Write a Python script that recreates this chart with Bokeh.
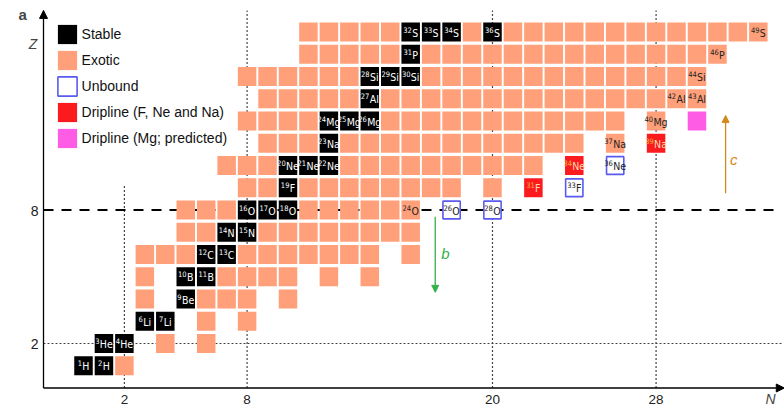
from bokeh.plotting import figure
from bokeh.models import (ColumnDataSource, Range1d, Arrow, NormalHead,
                          Label, Legend, LegendItem)
from bokeh.core.properties import value
from bokeh.embed import file_html
from bokeh.resources import INLINE

# ---------------- data ----------------
symbols = {1: "H", 2: "He", 3: "Li", 4: "Be", 5: "B", 6: "C", 7: "N", 8: "O",
           9: "F", 10: "Ne", 11: "Na", 12: "Mg", 13: "Al", 14: "Si", 15: "P", 16: "S"}

# stable nuclei (N, Z)
stable_N = [0, 1, 1, 2, 3, 4, 5, 5, 6, 6, 7, 7, 8, 8, 9, 10, 10, 10, 11, 12, 12,
            12, 13, 14, 14, 14, 15, 16, 16, 16, 17, 18, 20]
stable_Z = [1, 1, 2, 2, 3, 3, 4, 5, 5, 6, 6, 7, 7, 8, 8, 8, 9, 10, 10, 10, 11,
            12, 12, 12, 13, 14, 14, 14, 15, 16, 16, 16, 16]

# exotic (bound, radioactive) nuclei: runs of N for each Z  (Z, N_first, N_last)
exotic_runs = [
    (1, 2, 2),
    (2, 4, 4), (2, 6, 6),
    (3, 6, 6), (3, 8, 8),
    (4, 3, 3), (4, 6, 8), (4, 10, 10),
    (5, 3, 3), (5, 7, 10), (5, 12, 12), (5, 14, 14),
    (6, 3, 5), (6, 8, 14), (6, 16, 16),
    (7, 5, 6), (7, 9, 16),
    (8, 5, 7), (8, 11, 16),
    (9, 8, 9), (9, 11, 18), (9, 20, 20),
    (10, 7, 9), (10, 13, 22),
    (11, 9, 11), (11, 13, 24), (11, 26, 26),
    (12, 8, 11), (12, 15, 26), (12, 28, 28),
    (13, 9, 13), (13, 15, 30),
    (14, 8, 13), (14, 17, 30),
    (15, 11, 15), (15, 17, 31),
    (16, 11, 15), (16, 19, 19), (16, 21, 33),
]
# exotic nuclei that carry a label
exotic_label_N = [16, 26, 28, 29, 30, 30, 31, 33]
exotic_label_Z = [8, 11, 12, 13, 13, 14, 15, 16]

# unbound nuclei
unbound_N = [18, 20, 24, 26]
unbound_Z = [8, 8, 9, 10]

# dripline nuclei (F, Ne and Na)
drip_N = [22, 24, 28]
drip_Z = [9, 10, 11]

# predicted Mg dripline
pred_N = [30]
pred_Z = [12]

x_ticks = [2, 8, 20, 28]
x_tick_labels = ["2", "8", "20", "28"]
y_ticks = [2, 8]
y_tick_labels = ["2", "8"]

# magic-number guide lines
magic_N = [2, 8, 20, 28]
magic_N_top = [9.1, 16.97, 16.97, 16.97]

# ---------------- styles ----------------
C_STABLE = "#000000"
C_EXOTIC = "#FFA07A"
C_DRIP = "#FB1B1F"
C_PRED = "#FF5CE6"
C_UNB = "#5A5AF0"
C_B = "#35B04A"
C_C = "#D4891C"
CELL_W, CELL_H = 0.905, 0.855
FONT_TXT = "Liberation Sans"
FONT_CELL = "DejaVu Sans Condensed"
SYM_SIZE, SUP_SIZE = 10.5, 7.5
AX_X0 = -1.956      # position of the Z axis (in N units)
X_LAB_Z = -0.5      # centre of the N tick labels (in Z units)

exo_N, exo_Z = [], []
for z, n0, n1 in exotic_runs:
    for n in range(n0, n1 + 1):
        exo_N.append(n)
        exo_Z.append(z)

p = figure(width=784, height=406, output_backend="svg", toolbar_location=None,
           x_range=Range1d(-4.059, 34.28), y_range=Range1d(-0.831, 17.416),
           min_border=0, x_axis_location=None, y_axis_location=None)
p.grid.visible = False
p.outline_line_color = None
p.background_fill_color = "white"
p.border_fill_color = "white"

# guide lines (drawn under the cells)
p.segment(x0=magic_N, x1=magic_N, y0=[0] * 4, y1=magic_N_top,
          line_color="#444444", line_width=1.2, line_dash="2 2")
p.segment(x0=[AX_X0], x1=[34.2], y0=[2], y1=[2],
          line_color="#444444", line_width=1.2, line_dash="2 2")
p.segment(x0=[AX_X0], x1=[34.1], y0=[8], y1=[8],
          line_color="black", line_width=2, line_dash="10 8")

# cells
r_exo = p.rect(x=exo_N, y=exo_Z, width=CELL_W, height=CELL_H,
               fill_color=C_EXOTIC, line_color=None)
r_stab = p.rect(x=stable_N, y=stable_Z, width=CELL_W, height=CELL_H,
                fill_color=C_STABLE, line_color=None)
r_unb = p.rect(x=unbound_N, y=unbound_Z, width=CELL_W - 0.06, height=CELL_H - 0.06,
               fill_color="white", line_color=C_UNB, line_width=1.6)
r_drip = p.rect(x=drip_N, y=drip_Z, width=CELL_W, height=CELL_H,
                fill_color=C_DRIP, line_color=None)
r_pred = p.rect(x=pred_N, y=pred_Z, width=CELL_W, height=CELL_H,
                fill_color=C_PRED, line_color=None)

# cell labels
WID = {"H": 0.676, "e": 0.553, "L": 0.501, "i": 0.25, "B": 0.617, "C": 0.628,
       "N": 0.673, "O": 0.708, "F": 0.517, "M": 0.777, "g": 0.571, "a": 0.552,
       "S": 0.571, "P": 0.543, "A": 0.615, "l": 0.25}
DIG = 0.572


def add_labels(Ns, Zs, sup_color, sym_color):
    mass, sym, mx, sx = [], [], [], []
    for n, z in zip(Ns, Zs):
        a = str(n + z)
        s = symbols[z]
        wm = DIG * len(a) * SUP_SIZE
        ws = sum(WID[c] for c in s) * SYM_SIZE
        tot = wm + ws + 0.3
        mass.append(a)
        sym.append(s)
        mx.append(-tot / 2)
        sx.append(-tot / 2 + wm + 0.3)
    src = ColumnDataSource(dict(N=Ns, Z=Zs, mass=mass, sym=sym, mx=mx, sx=sx))
    p.text(x="N", y="Z", text="mass", x_offset="mx", y_offset=-2.4, source=src,
           text_font=value(FONT_CELL), text_font_size=f"{SUP_SIZE}px",
           text_align="left", text_baseline="middle", text_color=sup_color)
    p.text(x="N", y="Z", text="sym", x_offset="sx", y_offset=0.5, source=src,
           text_font=value(FONT_CELL), text_font_size=f"{SYM_SIZE}px",
           text_align="left", text_baseline="middle", text_color=sym_color)


add_labels(stable_N, stable_Z, "white", "white")
add_labels(exotic_label_N, exotic_label_Z, "#222222", "#222222")
add_labels(unbound_N, unbound_Z, "#222222", "#222222")
add_labels(drip_N, drip_Z, "#F2B23A", "#FFDDB0")

# tick labels
p.text(x=x_ticks, y=[X_LAB_Z] * len(x_ticks), text=x_tick_labels,
       text_font=value(FONT_TXT), text_font_size="13.5px", text_color="#222222",
       text_align="center", text_baseline="middle")
p.text(x=[AX_X0] * len(y_ticks), y=y_ticks, text=y_tick_labels, x_offset=-5,
       y_offset=0.5, text_font=value(FONT_TXT), text_font_size="14px",
       text_color="#222222", text_align="right", text_baseline="middle")

# axes with arrow heads
p.add_layout(Arrow(end=NormalHead(size=8, fill_color="black", line_color="black"),
                   x_start=AX_X0, y_start=0, x_end=AX_X0, y_end=16.97,
                   line_color="black", line_width=1.3))
p.add_layout(Arrow(end=NormalHead(size=8, fill_color="black", line_color="black"),
                   x_start=AX_X0, y_start=0, x_end=34.27, y_end=0,
                   line_color="black", line_width=1.3))

# arrows b and c
p.add_layout(Arrow(end=NormalHead(size=7, fill_color=C_B, line_color=C_B),
                   x_start=17.2, y_start=7.7, x_end=17.2, y_end=4.3,
                   line_color=C_B, line_width=1.3))
p.add_layout(Arrow(end=NormalHead(size=7, fill_color=C_C, line_color=C_C),
                   x_start=31.4, y_start=8.75, x_end=31.4, y_end=12.25,
                   line_color=C_C, line_width=1.3))
p.add_layout(Label(x=17.7, y=6.04, text="b", text_color=C_B, text_font=FONT_TXT,
                   text_font_size="15px", text_font_style="italic",
                   text_align="center", text_baseline="middle"))
p.add_layout(Label(x=31.8, y=10.27, text="c", text_color=C_C, text_font=FONT_TXT,
                   text_font_size="15px", text_font_style="italic",
                   text_align="center", text_baseline="middle"))

# panel letter and axis names
p.add_layout(Label(x=-2.98, y=16.79, text="a", text_font=FONT_TXT,
                   text_font_size="15px", text_font_style="bold",
                   text_align="center", text_baseline="middle"))
p.add_layout(Label(x=-2.47, y=15.44, text="Z", text_font=FONT_TXT,
                   text_font_size="14px", text_font_style="italic",
                   text_align="center", text_baseline="middle"))
p.add_layout(Label(x=33.6, y=X_LAB_Z, text="N", text_font=FONT_TXT,
                   text_font_size="14px", text_font_style="italic",
                   text_align="center", text_baseline="middle"))

legend = Legend(items=[LegendItem(label="Stable", renderers=[r_stab]),
                       LegendItem(label="Exotic", renderers=[r_exo]),
                       LegendItem(label="Unbound", renderers=[r_unb]),
                       LegendItem(label="Dripline (F, Ne and Na)", renderers=[r_drip]),
                       LegendItem(label="Dripline (Mg; predicted)", renderers=[r_pred])],
                location=(54.6, 256.4), glyph_width=24, glyph_height=24,
                label_height=24, spacing=2, padding=0, margin=0, label_standoff=3,
                label_text_font=FONT_TXT, label_text_font_size="14px",
                label_text_color="#111111",
                border_line_color=None, background_fill_alpha=0)
p.add_layout(legend)

open("out.html", "w").write(file_html(p, INLINE))
